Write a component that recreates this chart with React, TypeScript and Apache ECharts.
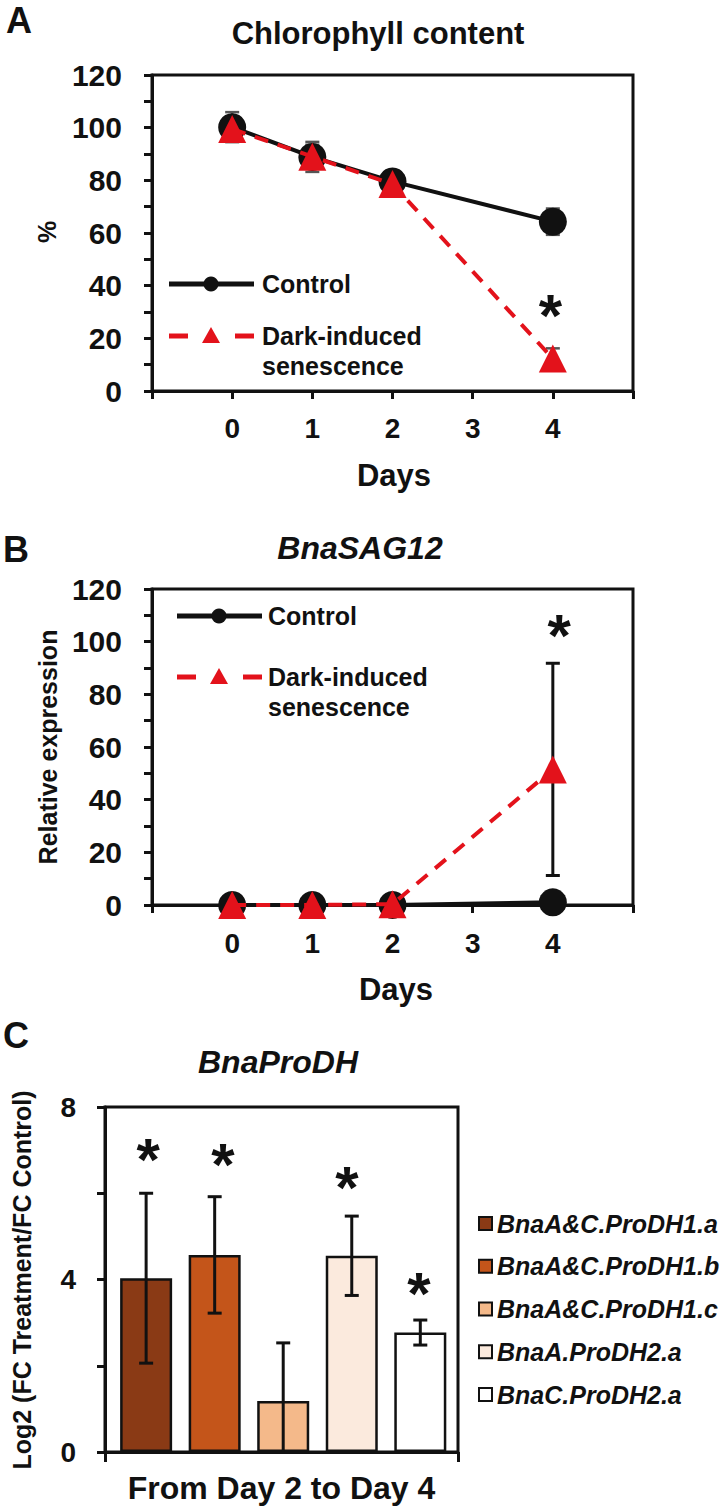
import React, { useEffect, useRef } from 'react';
import * as echarts from 'echarts';

// ---------- data ----------
const days = [0, 1, 2, 4];
const xTickLabels = ['0', '1', '2', '3', '4'];

const chlControl = [100.2, 88.9, 79.6, 64.3];
const chlControlErr = [5.7, 5.7, 2.0, 5.0];
const chlDark = [99.5, 89.0, 78.6, 12.3];
const chlDarkErr = [4.5, 4.5, 2.0, 3.9];
const chlStars = [[3.97, 31.5]];

const sagControl = [0, 0, 0, 1.0];
const sagControlErr = [0, 0, 0, 0.4];
const sagDark = [0, 0, 0.3, 51.5];
const sagDarkErr = [0, 0, 0, 40.3];
const sagStars = [[4.08, 105]];

const genes = ['BnaA&C.ProDH1.a', 'BnaA&C.ProDH1.b', 'BnaA&C.ProDH1.c', 'BnaA.ProDH2.a', 'BnaC.ProDH2.a'];
const prodhLog2FC = [4.03, 4.57, 1.18, 4.55, 2.77];
const prodhErr = [1.97, 1.35, 1.35, 0.92, 0.29];
const prodhStars = [[0.03, 6.96], [1.12, 6.84], [2.93, 6.29], [3.98, 3.85]];
const periodLabel = ['From Day 2 to Day 4'];

// ---------- styles ----------
const FONT = '"Liberation Sans", Arial, Helvetica, sans-serif';
const INK = '#111111';
const RED = '#E3121B';
const GENE_COLORS = ['#8A3A15', '#C4551A', '#F4B98A', '#FBEADD', '#FFFFFF'];
const STAR_FS = 60;

const pairs = (xs: number[], ys: number[]) => xs.map((x, i) => [x, ys[i]]);
const triples = (xs: number[], ys: number[], es: number[]) => xs.map((x, i) => [x, ys[i], es[i]]);

const errRender = (color: string, lw: number, capHalf: number) => (params: any, api: any) => {
  const x = api.value(0);
  const y = api.value(1);
  const e = api.value(2);
  if (!(e > 0)) return null;
  const top = api.coord([x, y + e]);
  const bot = api.coord([x, y - e]);
  const cs = params.coordSys;
  const floor = cs.y + cs.height;
  const yb = Math.min(bot[1], floor);
  const st = { stroke: color, lineWidth: lw };
  const children: any[] = [
    { type: 'line', shape: { x1: top[0], y1: top[1], x2: top[0], y2: yb }, style: st },
    { type: 'line', shape: { x1: top[0] - capHalf, y1: top[1], x2: top[0] + capHalf, y2: top[1] }, style: st },
  ];
  if (bot[1] <= floor) {
    children.push({ type: 'line', shape: { x1: bot[0] - capHalf, y1: bot[1], x2: bot[0] + capHalf, y2: bot[1] }, style: st });
  }
  return { type: 'group', children };
};

const starRender = (params: any, api: any) => {
  const p = api.coord([api.value(0), api.value(1)]);
  return {
    type: 'text',
    x: p[0],
    y: p[1] + STAR_FS * 0.12,
    style: {
      text: '*',
      fontSize: STAR_FS,
      fontWeight: 'bold',
      fontFamily: FONT,
      fill: INK,
      align: 'center',
      verticalAlign: 'middle',
    },
  };
};

const axisLine = { show: true, onZero: false, lineStyle: { color: INK, width: 3 } };
const axisTick = { show: true, length: 8, lineStyle: { color: INK, width: 3 } };
const labelBase = { color: INK, fontWeight: 'bold', fontFamily: FONT };

const dayXAxis = (gridIndex: number, margin: number) => ({
  type: 'value',
  gridIndex,
  min: -1,
  max: 5,
  interval: 1,
  axisLine,
  axisTick,
  splitLine: { show: false },
  axisLabel: {
    ...labelBase,
    fontSize: 28,
    margin,
    formatter: (v: number) => (v >= 0 && v <= 4 ? xTickLabels[v] : ''),
  },
});

const pctYAxis = (gridIndex: number) => ({
  type: 'value',
  gridIndex,
  min: 0,
  max: 120,
  interval: 20,
  axisLine,
  axisTick,
  minorTick: { show: true, splitNumber: 2, length: 8, lineStyle: { color: INK, width: 3 } },
  splitLine: { show: false },
  minorSplitLine: { show: false },
  axisLabel: { ...labelBase, fontSize: 30, margin: 30 },
});

const txt = (x: number, y: number, text: string, fontSize: number, extra: any = {}, rot = 0) => ({
  type: 'text',
  x,
  y,
  rotation: rot,
  silent: true,
  style: {
    text,
    fontSize,
    fontWeight: 'bold',
    fontFamily: FONT,
    fill: INK,
    align: 'center',
    verticalAlign: 'middle',
    ...extra,
  },
});

const lineLegend = (x0: number, yC: number, yD: number, tx: number) => [
  { type: 'line', silent: true, shape: { x1: x0, y1: yC, x2: x0 + 85, y2: yC }, style: { stroke: INK, lineWidth: 5 } },
  { type: 'circle', silent: true, shape: { cx: x0 + 42, cy: yC, r: 7.5 }, style: { fill: INK } },
  txt(tx, yC, 'Control', 25, { align: 'left' }),
  { type: 'line', silent: true, shape: { x1: x0, y1: yD, x2: x0 + 19, y2: yD }, style: { stroke: RED, lineWidth: 5 } },
  { type: 'line', silent: true, shape: { x1: x0 + 66, y1: yD, x2: x0 + 85, y2: yD }, style: { stroke: RED, lineWidth: 5 } },
  {
    type: 'polygon',
    silent: true,
    shape: { points: [[x0 + 42, yD - 9], [x0 + 51, yD + 7], [x0 + 33, yD + 7]] },
    style: { fill: RED },
  },
  txt(tx, yD, 'Dark-induced', 25, { align: 'left' }),
  txt(tx, yD + 30, 'senescence', 25, { align: 'left' }),
];

export default function App() {
  const ref = useRef<HTMLDivElement>(null);

  useEffect(() => {
    document.body.style.margin = '0';
    if (!ref.current) return;
    const chart = echarts.init(ref.current, undefined, { renderer: 'svg' });

    const option: any = {
      animation: false,
      backgroundColor: '#ffffff',
      textStyle: { fontFamily: FONT },
      grid: [
        { left: 152, top: 75, width: 481, height: 316, show: true, borderColor: INK, borderWidth: 3, backgroundColor: 'transparent' },
        { left: 152, top: 589, width: 481, height: 316, show: true, borderColor: INK, borderWidth: 3, backgroundColor: 'transparent' },
        { left: 105, top: 1107, width: 353, height: 345, show: true, borderColor: INK, borderWidth: 3, backgroundColor: 'transparent' },
      ],
      xAxis: [
        dayXAxis(0, 23),
        dayXAxis(1, 24),
        { type: 'value', gridIndex: 2, min: -0.6, max: 4.55, show: false, splitLine: { show: false } },
        {
          type: 'category',
          gridIndex: 2,
          position: 'bottom',
          data: periodLabel,
          axisLine,
          axisTick: { show: true, length: 10, lineStyle: { color: INK, width: 3 } },
          axisLabel: { ...labelBase, fontSize: 32, margin: 20 },
        },
      ],
      yAxis: [
        pctYAxis(0),
        pctYAxis(1),
        {
          type: 'value',
          gridIndex: 2,
          min: 0,
          max: 8,
          interval: 2,
          axisLine,
          axisTick,
          splitLine: { show: false },
          axisLabel: {
            ...labelBase,
            fontSize: 28,
            margin: 29,
            formatter: (v: number) => (v % 4 === 0 ? String(v) : ''),
          },
        },
      ],
      legend: {
        data: genes,
        orient: 'vertical',
        left: 478,
        top: 1211,
        itemWidth: 13,
        itemHeight: 13,
        itemGap: 17.75,
        padding: 0,
        selectedMode: false,
        icon: 'rect',
        textStyle: { fontSize: 25, fontWeight: 'bold', fontStyle: 'italic', color: INK, fontFamily: FONT, lineHeight: 24 },
      },
      series: [
        // Panel A
        { type: 'custom', xAxisIndex: 0, yAxisIndex: 0, renderItem: errRender('#555555', 2.5, 7), data: triples(days, chlControl, chlControlErr), z: 1, clip: false },
        { type: 'custom', xAxisIndex: 0, yAxisIndex: 0, renderItem: errRender('#555555', 2.5, 7), data: triples(days, chlDark, chlDarkErr), z: 1, clip: false },
        {
          type: 'line', name: 'Control', xAxisIndex: 0, yAxisIndex: 0, data: pairs(days, chlControl),
          symbol: 'circle', symbolSize: 28, clip: false, z: 2,
          lineStyle: { color: INK, width: 4 }, itemStyle: { color: INK },
        },
        {
          type: 'line', name: 'Dark-induced senescence', xAxisIndex: 0, yAxisIndex: 0, data: pairs(days, chlDark),
          symbol: 'triangle', symbolSize: 28, clip: false, z: 3,
          lineStyle: { color: RED, width: 4, type: [14, 10] }, itemStyle: { color: RED },
        },
        { type: 'custom', xAxisIndex: 0, yAxisIndex: 0, renderItem: starRender, data: chlStars, z: 4, clip: false },

        // Panel B
        { type: 'custom', xAxisIndex: 1, yAxisIndex: 1, renderItem: errRender(INK, 3, 7), data: triples(days, sagControl, sagControlErr), z: 1, clip: false },
        { type: 'custom', xAxisIndex: 1, yAxisIndex: 1, renderItem: errRender(INK, 3, 7), data: triples(days, sagDark, sagDarkErr), z: 1, clip: false },
        {
          type: 'line', name: 'Control', xAxisIndex: 1, yAxisIndex: 1, data: pairs(days, sagControl),
          symbol: 'circle', symbolSize: 28, clip: false, z: 2,
          lineStyle: { color: INK, width: 4 }, itemStyle: { color: INK },
        },
        {
          type: 'line', name: 'Dark-induced senescence', xAxisIndex: 1, yAxisIndex: 1, data: pairs(days, sagDark),
          symbol: 'triangle', symbolSize: 28, clip: false, z: 3,
          lineStyle: { color: RED, width: 4, type: [14, 10] }, itemStyle: { color: RED },
        },
        { type: 'custom', xAxisIndex: 1, yAxisIndex: 1, renderItem: starRender, data: sagStars, z: 4, clip: false },

        // Panel C
        ...genes.map((g, i) => ({
          type: 'bar',
          name: g,
          xAxisIndex: 2,
          yAxisIndex: 2,
          stack: 'prodh',
          barWidth: 52,
          data: [[i, prodhLog2FC[i]]],
          itemStyle: { color: GENE_COLORS[i], borderColor: INK, borderWidth: 2.5 },
          z: 2,
        })),
        {
          type: 'custom', xAxisIndex: 2, yAxisIndex: 2, renderItem: errRender(INK, 3, 7),
          data: triples(genes.map((_, i) => i), prodhLog2FC, prodhErr), z: 3, clip: false,
        },
        { type: 'custom', xAxisIndex: 2, yAxisIndex: 2, renderItem: starRender, data: prodhStars, z: 4, clip: false },
      ],
      graphic: [
        // panel letters
        txt(6, 20, 'A', 36, { align: 'left' }),
        txt(3, 549, 'B', 36, { align: 'left' }),
        txt(3, 1035, 'C', 36, { align: 'left' }),
        // titles
        txt(378, 33, 'Chlorophyll content', 31),
        txt(360, 548, 'BnaSAG12', 32, { fontStyle: 'italic' }),
        txt(278, 1062, 'BnaProDH', 32, { fontStyle: 'italic' }),
        // axis names
        txt(47, 232, '%', 25, {}, Math.PI / 2),
        txt(48, 747, 'Relative expression', 25, {}, Math.PI / 2),
        txt(22, 1280, 'Log2 (FC Treatment/FC Control)', 25, {}, Math.PI / 2),
        txt(394, 475, 'Days', 31),
        txt(396, 989, 'Days', 31),
        // legends for A and B
        ...lineLegend(169, 284, 336, 262),
        ...lineLegend(177, 616, 677, 268),
      ],
    };

    chart.setOption(option);
    return () => chart.dispose();
  }, []);

  return <div ref={ref} style={{ width: 724, height: 1510 }} />;
}
